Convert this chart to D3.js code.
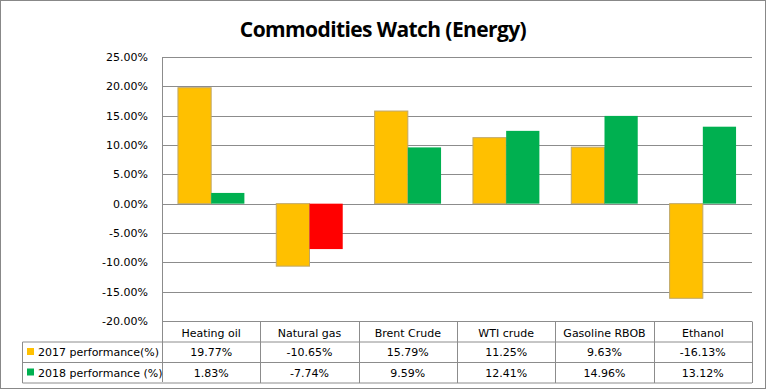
<!DOCTYPE html>
<html>
<head>
<meta charset="utf-8">
<script src="https://cdn.jsdelivr.net/npm/d3@7"></script>
<style>
  body { margin: 0; background: #fff; }
  svg text { font-family: 'DejaVu Sans', Verdana, sans-serif; }
</style>
</head>
<body>
<div id="chart"></div>
<script>
/* global d3 */

let categories = ['Heating oil', 'Natural gas', 'Brent Crude', 'WTI crude', 'Gasoline RBOB', 'Ethanol']
let seriesNames = ['2017 performance(%)', '2018 performance (%)']
let perf2017 = [19.77, -10.65, 15.79, 11.25, 9.63, -16.13]
let perf2018 = [1.83, -7.74, 9.59, 12.41, 14.96, 13.12]
let yTicks = [-20, -15, -10, -5, 0, 5, 10, 15, 20, 25]

let width = 767
let height = 390
let margin = { top: 57, left: 162, right: 15, bottom: 69 }

let seriesColor = ['#ffc000', '#00b050']
let negColor2018 = '#ff0000'

let svg = d3.select('#chart').append('svg')
    .attr('width', width)
    .attr('height', height)

// outer chart border
svg.append('rect')
    .attr('x', 0.5).attr('y', 0.5)
    .attr('width', width - 2).attr('height', height - 2)
    .attr('fill', '#fff')
    .attr('stroke', '#888')

svg.append('text')
    .attr('x', 383)
    .attr('y', 37)
    .attr('text-anchor', 'middle')
    .style('font-family', "'Open Sans', sans-serif")
    .style('font-size', '21px')
    .style('font-weight', 'bold')
    .style('letter-spacing', '-0.6px')
    .text('Commodities Watch (Energy)')

let x = d3.scaleBand()
    .domain(categories)
    .range([margin.left, width - margin.right])

let xSub = d3.scaleBand()
    .domain([0, 1])
    .range([0, x.bandwidth()])
    .paddingOuter(0.48)

let y = d3.scaleLinear()
    .domain([-20, 25])
    .range([height - margin.bottom, margin.top])

// gridlines
svg.append('g').attr('class', 'grid')
    .selectAll('line')
    .data(yTicks)
    .enter()
    .append('line')
    .attr('x1', margin.left)
    .attr('x2', width - margin.right)
    .attr('y1', (d) => Math.round(y(d)) + 0.5)
    .attr('y2', (d) => Math.round(y(d)) + 0.5)
    .attr('stroke', '#8c8c8c')

// y axis
let yAxis = svg.append('g').attr('class', 'y-axis')
    .attr('transform', 'translate(' + margin.left + ',0)')
    .call(d3.axisLeft(y).tickValues(yTicks).tickSize(0).tickPadding(14)
        .tickFormat((d) => d.toFixed(2) + '%'))
yAxis.select('.domain').remove()
yAxis.selectAll('text')
    .style('font-size', '11px')
    .style('fill', '#000')

// bars
let barData = []
categories.forEach((c, i) => {
    barData.push({ cat: c, s: 0, v: perf2017[i] })
    barData.push({ cat: c, s: 1, v: perf2018[i] })
})

svg.append('g').attr('class', 'bars')
    .selectAll('rect')
    .data(barData)
    .enter()
    .append('rect')
    .attr('x', (d) => x(d.cat) + xSub(d.s))
    .attr('y', (d) => y(Math.max(0, d.v)))
    .attr('width', xSub.bandwidth())
    .attr('height', (d) => Math.abs(y(d.v) - y(0)))
    .attr('fill', (d) => (d.s === 1 && d.v < 0) ? negColor2018 : seriesColor[d.s])
    .attr('stroke', (d) => d.s === 0 ? '#bfa76a' : 'none')
    .attr('stroke-width', 1)

// axis line
svg.append('line')
    .attr('x1', margin.left + 0.5).attr('x2', margin.left + 0.5)
    .attr('y1', margin.top).attr('y2', 382)
    .attr('stroke', '#8c8c8c')

// data table
let tableTop = Math.round(y(-20)) + 0.5
let rowH = 20.5
let tableLeft = 22.5
let table = svg.append('g').attr('class', 'table')

// horizontal lines
table.append('line')
    .attr('x1', tableLeft).attr('x2', width - margin.right)
    .attr('y1', tableTop + rowH).attr('y2', tableTop + rowH)
    .attr('stroke', '#8c8c8c')
table.append('line')
    .attr('x1', tableLeft).attr('x2', width - margin.right)
    .attr('y1', tableTop + 2 * rowH).attr('y2', tableTop + 2 * rowH)
    .attr('stroke', '#8c8c8c')
table.append('line')
    .attr('x1', tableLeft).attr('x2', width - margin.right)
    .attr('y1', tableTop + 3 * rowH).attr('y2', tableTop + 3 * rowH)
    .attr('stroke', '#8c8c8c')
table.append('line')
    .attr('x1', tableLeft).attr('x2', tableLeft)
    .attr('y1', tableTop + rowH).attr('y2', tableTop + 3 * rowH)
    .attr('stroke', '#8c8c8c')

// vertical lines between categories
table.selectAll('.vline')
    .data(categories)
    .enter()
    .append('line')
    .attr('class', 'vline')
    .attr('x1', (c) => Math.round(x(c) + x.bandwidth()) + 0.5)
    .attr('x2', (c) => Math.round(x(c) + x.bandwidth()) + 0.5)
    .attr('y1', tableTop)
    .attr('y2', tableTop + 3 * rowH)
    .attr('stroke', '#8c8c8c')

// header
table.selectAll('.head')
    .data(categories)
    .enter()
    .append('text')
    .attr('class', 'head')
    .attr('x', (c) => x(c) + x.bandwidth() / 2)
    .attr('y', tableTop + 15)
    .attr('text-anchor', 'middle')
    .style('font-size', '11px')
    .text((c) => c)

let rows = [perf2017, perf2018]
rows.forEach((vals, r) => {
    let ry = tableTop + rowH * (r + 1)
    table.append('rect')
        .attr('x', 27).attr('y', ry + 6)
        .attr('width', 7).attr('height', 7)
        .attr('fill', seriesColor[r])
    table.append('text')
        .attr('x', 38)
        .attr('y', ry + 14)
        .style('font-size', '11px')
        .text(seriesNames[r])
    table.selectAll('.val' + r)
        .data(vals)
        .enter()
        .append('text')
        .attr('x', (v, i) => x(categories[i]) + x.bandwidth() / 2)
        .attr('y', ry + 14)
        .attr('text-anchor', 'middle')
        .style('font-size', '11px')
        .text((v) => v.toFixed(2) + '%')
})
</script>
</body>
</html>
